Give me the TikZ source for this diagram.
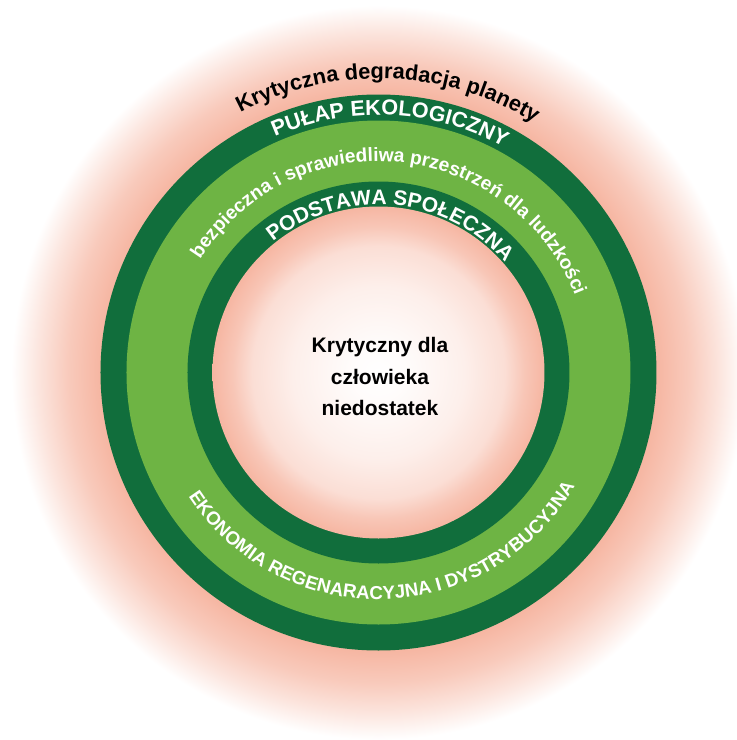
\documentclass[tikz,border=0pt]{standalone}
\usepackage{fontspec}
\setmainfont{Liberation Sans}
\usetikzlibrary{decorations.text}
\definecolor{dkgreen}{RGB}{17,110,60}
\definecolor{ltgreen}{RGB}{110,180,68}
\definecolor{salm}{RGB}{246,182,162}
\colorlet{salmA}{salm!72!white}
\colorlet{salmB}{salm!36!white}
\colorlet{salmC}{salm!22!white}
\colorlet{salmD}{salm!45!white}
\colorlet{salmE}{salm!78!white}
\colorlet{cream}{white!96!salm}
\pgfdeclareradialshading{glow}{\pgfpoint{0bp}{0bp}}{color(0bp)=(salm); color(18.8bp)=(salm); color(21bp)=(salmA); color(23bp)=(salmB); color(24.8bp)=(white); color(50bp)=(white)}
\pgfdeclareradialshading{core}{\pgfpoint{0bp}{0bp}}{color(0bp)=(white); color(4bp)=(cream); color(13bp)=(salmC); color(19bp)=(salmD); color(22bp)=(salmE); color(25bp)=(salm); color(50bp)=(salm)}
\tikzset{
  arctext/.style={decorate, decoration={text along path, text align=center, text color=#1}},
}
\begin{document}
\begin{tikzpicture}[x=1pt,y=1pt]
\useasboundingbox (-378.5,-367.5) rectangle (358.5,372.5);
\fill[white] (-378.5,-367.5) rectangle (358.5,372.5);
\shade[shading=glow] (0,0) circle (370);
\fill[dkgreen] (0,0) circle (278);
\fill[ltgreen] (0,0) circle (252);
\fill[dkgreen] (0,0) circle (191);
\shade[shading=core] (0,0) circle (166);
% arc texts
\path[arctext=black, decoration={text={|\bfseries\fontsize{21.8}{22}\selectfont|Krytyczna degradacja planety}}] (178:294) arc (178:-2:294);
\path[arctext=white, decoration={text={|\bfseries\fontsize{21.6}{22}\selectfont|PUŁAP EKOLOGICZNY}}] (177.3:257.5) arc (177.3:-2.7:257.5);
\path[arctext=white, decoration={text={|\bfseries\fontsize{19.2}{19}\selectfont|bezpieczna i sprawiedliwa przestrzeń dla ludzkości}}] (174.5:211) arc (174.5:-5.5:211);
\path[arctext=white, decoration={text={|\bfseries\fontsize{21}{21}\selectfont|PODSTAWA SPOŁECZNA}}] (175:168) arc (175:-5:168);
\path[arctext=white, decoration={text={|\bfseries\fontsize{18.8}{19}\selectfont|EKONOMIA REGENARACYJNA I DYSTRYBUCYJNA}}] (181.5:227) arc (181.5:361.5:227);
\node[font=\bfseries\fontsize{21}{31.5}\selectfont, align=center] (deficit) at (1.5,-4) {Krytyczny dla\\człowieka\\niedostatek};
\end{tikzpicture}
\end{document}
